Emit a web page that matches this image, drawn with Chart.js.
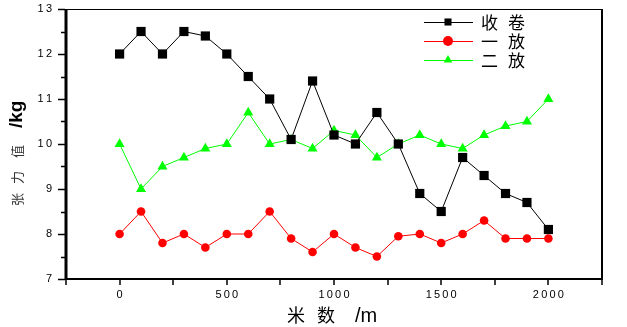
<!DOCTYPE html>
<html>
<head>
<meta charset="utf-8">
<script src="https://cdn.jsdelivr.net/npm/chart.js@4.4.0/dist/chart.umd.min.js"></script>
<style>
  body { margin: 0; background: #fff; }
  #wrap { width: 627px; height: 327px; }
</style>
</head>
<body>
<div id="wrap"><canvas id="myChart" width="627" height="327"></canvas></div>
<script>
const distances = [0, 100, 200, 300, 400, 500, 600, 700, 800, 900, 1000,
  1100, 1200, 1300, 1400, 1500, 1600, 1700, 1800, 1900, 2000];
const shoujuan = [12, 12.5, 12, 12.5, 12.4, 12, 11.5, 11, 10.1, 11.4, 10.2,
  10, 10.7, 10, 8.9, 8.5, 9.7, 9.3, 8.9, 8.7, 8.1];
const yifang = [8, 8.5, 7.8, 8, 7.7, 8, 8, 8.5, 7.9, 7.6, 8,
  7.7, 7.5, 7.95, 8, 7.8, 8, 8.3, 7.9, 7.9, 7.9];
const erfang = [10, 9, 9.5, 9.7, 9.9, 10, 10.7, 10, 10.1, 9.9, 10.3,
  10.2, 9.7, 10, 10.2, 10, 9.9, 10.2, 10.4, 10.5, 11];
const seriesNames = ['收 卷', '一 放', '二 放'];
const xTicks = [0, 500, 1000, 1500, 2000];
const yTicks = [7, 8, 9, 10, 11, 12, 13];

const toPoints = (vals) => vals.map((v, i) => ({ x: distances[i], y: v }));
const spaced = (v) => String(v).split('').join('\u2009');

const styles = [
  { color: '#000000', shape: 'rect', r: 6.5 },
  { color: '#ff0000', shape: 'circle', r: 4.3 },
  { color: '#00ff00', shape: 'triangle', r: 5.8 },
];

const data = {
  datasets: [shoujuan, yifang, erfang].map((vals, i) => ({
    label: seriesNames[i],
    data: toPoints(vals),
    borderColor: styles[i].color,
    backgroundColor: styles[i].color,
    borderWidth: 1,
    pointStyle: styles[i].shape,
    pointRadius: styles[i].r,
    pointBorderWidth: 0,
    tension: 0,
  })),
};

const frame = {
  id: 'frame',
  afterDraw(chart) {
    const ctx = chart.ctx;
    const a = chart.chartArea;
    const xs = chart.scales.x;
    const ys = chart.scales.y;
    ctx.save();
    ctx.strokeStyle = '#000';
    ctx.fillStyle = '#000';

    // frame
    ctx.lineWidth = 1;
    ctx.beginPath(); ctx.moveTo(a.left, a.top + 0.5); ctx.lineTo(a.right, a.top + 0.5); ctx.stroke();
    ctx.lineWidth = 2;
    ctx.beginPath(); ctx.moveTo(a.right, a.top); ctx.lineTo(a.right, a.bottom + 1); ctx.stroke();
    ctx.beginPath(); ctx.moveTo(a.left - 1, a.bottom); ctx.lineTo(a.right + 1, a.bottom); ctx.stroke();
    ctx.lineWidth = 3;
    ctx.beginPath(); ctx.moveTo(a.left, a.top); ctx.lineTo(a.left, a.bottom + 1); ctx.stroke();

    // tick marks, outside
    ctx.lineWidth = 1.5;
    xs.ticks.forEach((t) => {
      const px = Math.round(xs.getPixelForValue(t.value));
      ctx.beginPath(); ctx.moveTo(px, a.bottom); ctx.lineTo(px, a.bottom + 6); ctx.stroke();
    });
    ys.ticks.forEach((t) => {
      const py = Math.round(ys.getPixelForValue(t.value)) + 0.5;
      const len = Number.isInteger(t.value) ? 7 : 4;
      ctx.beginPath(); ctx.moveTo(a.left - 1, py); ctx.lineTo(a.left - 1 - len, py); ctx.stroke();
    });

    // legend
    const rows = [22, 41, 60];
    ctx.font = '17px "Noto Sans CJK SC"';
    ctx.textBaseline = 'middle';
    chart.data.datasets.forEach((ds, i) => {
      const y = rows[i];
      ctx.strokeStyle = styles[i].color;
      ctx.fillStyle = styles[i].color;
      ctx.lineWidth = 1;
      ctx.beginPath(); ctx.moveTo(424, y + 0.5); ctx.lineTo(473, y + 0.5); ctx.stroke();
      Chart.helpers.drawPoint(ctx, { pointStyle: styles[i].shape, radius: 5, borderWidth: 0 }, 448, y);
      ctx.fillStyle = '#000';
      const chars = ds.label.split(' ');
      ctx.fillText(chars[0], 481, y + 1);
      ctx.fillText(chars[1], 508, y + 1);
    });

    // axis titles
    ctx.fillStyle = '#000';
    ctx.textBaseline = 'alphabetic';
    ctx.font = '18px "Noto Sans CJK SC"';
    ctx.fillText('米', 287, 322);
    ctx.fillText('数', 317, 322);
    ctx.font = '20px "Liberation Sans"';
    ctx.fillText('/m', 355, 322);

    ctx.translate(22, 0);
    ctx.rotate(-Math.PI / 2);
    ctx.fillStyle = '#333';
    ctx.font = '13px "Noto Sans CJK SC"';
    ctx.fillText('张', -206, 0);
    ctx.fillText('力', -184, 0);
    ctx.fillText('值', -158, 0);
    ctx.fillStyle = '#000';
    ctx.font = 'bold 19px "Liberation Sans"';
    ctx.fillText('/kg', -128, 0);
    ctx.restore();
  },
};

const config = {
  type: 'line',
  data: data,
  options: {
    responsive: false,
    animation: false,
    layout: { autoPadding: false, padding: { top: 9, right: 25, left: 0, bottom: 0 } },
    plugins: { legend: { display: false }, tooltip: { enabled: false } },
    scales: {
      x: {
        type: 'linear',
        min: -250,
        max: 2250,
        grid: { display: false, drawTicks: false },
        border: { display: false },
        afterFit: (scale) => {
          scale.height = 48;
          scale.paddingLeft = 0;
          scale.paddingRight = 0;
        },
        ticks: {
          stepSize: 250,
          autoSkip: false,
          maxRotation: 0,
          padding: 9,
          color: '#000',
          font: { family: 'Liberation Sans', size: 11 },
          callback: (v) => (xTicks.includes(v) ? spaced(v) : ''),
        },
      },
      y: {
        min: 7,
        max: 13,
        grid: { display: false, drawTicks: false },
        border: { display: false },
        afterFit: (scale) => {
          scale.width = 66;
          scale.paddingTop = 0;
          scale.paddingBottom = 0;
        },
        ticks: {
          stepSize: 0.5,
          autoSkip: false,
          padding: 14,
          color: '#000',
          font: { family: 'Liberation Sans', size: 11 },
          callback: (v) => (yTicks.includes(v) ? spaced(v) : ''),
        },
      },
    },
  },
  plugins: [frame],
};

const myChart = new Chart(document.getElementById('myChart'), config);
</script>
</body>
</html>
